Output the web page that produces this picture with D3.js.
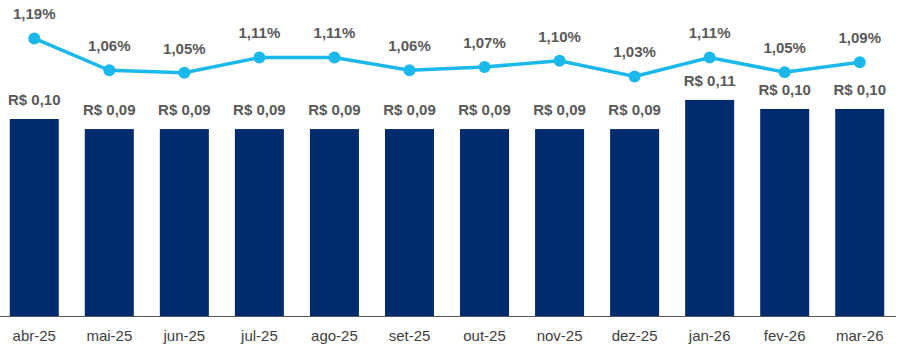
<!DOCTYPE html>
<html><head><meta charset="utf-8">
<script src="https://cdn.jsdelivr.net/npm/d3@7"></script>
<style>body{margin:0;background:#fff}svg{display:block}</style>
</head><body>
<svg id="c" width="908" height="358"></svg>
<script>
const months = ["abr-25","mai-25","jun-25","jul-25","ago-25","set-25","out-25","nov-25","dez-25","jan-26","fev-26","mar-26"];
const barValues = [0.098,0.093,0.093,0.093,0.093,0.093,0.093,0.093,0.093,0.1075,0.103,0.103];
const lineValues = [1.19,1.056,1.046,1.11,1.11,1.056,1.07,1.096,1.03,1.11,1.048,1.09];

const svg = d3.select("#c");
const x = d3.scaleBand().domain(months).range([-3, 897]).paddingInner(0.347).paddingOuter(0.17);
const y = d3.scaleLinear().domain([0, 0.12]).range([316, 74.8]);
const y2 = d3.scaleLinear().domain([1.0, 1.2]).range([83.6, 36.1]);
const fmtBar = v => "R$ " + d3.format(".2f")(v).replace(".", ",");
const fmtPct = v => d3.format(".2f")(v).replace(".", ",") + "%";
const font = "'Liberation Sans', Arial, sans-serif";

svg.selectAll("rect.bar").data(months).join("rect")
  .attr("class","bar")
  .attr("x", d => x(d)).attr("width", x.bandwidth())
  .attr("y", (d,i) => y(barValues[i])).attr("height", (d,i) => y(0) - y(barValues[i]))
  .attr("fill", "#002B6E");

svg.append("line").attr("x1", 0).attr("x2", 896).attr("y1", 316.5).attr("y2", 316.5)
  .attr("stroke", "#595959").attr("stroke-width", 1);

const xAxis = d3.axisBottom(x).tickSize(0).tickPadding(0);
const gx = svg.append("g").attr("transform", "translate(0,330)").call(xAxis);
gx.select(".domain").remove();
gx.selectAll("text").attr("font-family", font).attr("font-size", 15).attr("fill", "#404040").attr("dy", "0.71em");

svg.selectAll("text.bl").data(months).join("text")
  .attr("class","bl")
  .attr("x", d => x(d) + x.bandwidth()/2).attr("y", (d,i) => y(barValues[i]) - 14)
  .attr("text-anchor","middle").attr("font-family", font).attr("font-weight","bold")
  .attr("font-size", 15).attr("fill", "#595959")
  .text((d,i) => fmtBar(barValues[i]));

const cx = d => x(d) + x.bandwidth()/2;
const line = d3.line().x((d,i) => cx(months[i])).y(d => y2(d));
svg.append("path").datum(lineValues).attr("d", line)
  .attr("fill","none").attr("stroke","#1BB8EC").attr("stroke-width", 3.5);
svg.selectAll("circle.pt").data(lineValues).join("circle")
  .attr("class","pt")
  .attr("cx", (d,i) => cx(months[i])).attr("cy", d => y2(d)).attr("r", 6)
  .attr("fill","#1BB8EC");
svg.selectAll("text.pl").data(lineValues).join("text")
  .attr("class","pl")
  .attr("x", (d,i) => cx(months[i])).attr("y", d => y2(d) - 19)
  .attr("text-anchor","middle").attr("font-family", font).attr("font-weight","bold")
  .attr("font-size", 15).attr("fill", "#595959")
  .text(d => fmtPct(d));
</script>
</body></html>
